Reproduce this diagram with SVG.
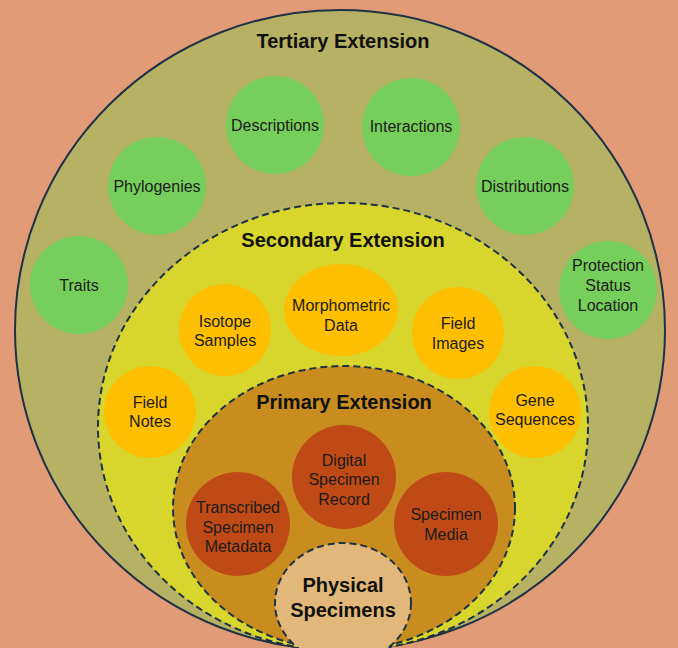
<svg xmlns="http://www.w3.org/2000/svg" width="678" height="648" viewBox="0 0 678 648">
<style>
.t{font-family:"Liberation Sans",Arial,sans-serif;font-size:16px;fill:#1c1c1c;text-anchor:middle}
.h{font-family:"Liberation Sans",Arial,sans-serif;font-size:20px;font-weight:bold;fill:#111;text-anchor:middle}
.g{fill:#76CF5A}
.o{fill:#FEBF00}
.r{fill:#BF4A16}
.dash{stroke:#1E3246;stroke-width:2;stroke-dasharray:7 4}
</style>
<rect width="678" height="648" fill="#E19B77"/>
<g id="tertiary">
<ellipse cx="340" cy="330" rx="325" ry="320" fill="#B6B163" stroke="#1E3246" stroke-width="2"/>
<text class="h" x="343" y="48">Tertiary Extension</text>
</g>
<g id="traits"><circle class="g" cx="79" cy="285" r="49"/><text class="t" x="79" y="291">Traits</text></g>
<g id="phylogenies"><circle class="g" cx="157" cy="186" r="49"/><text class="t" x="157" y="192">Phylogenies</text></g>
<g id="descriptions"><circle class="g" cx="275" cy="125" r="49"/><text class="t" x="275" y="131">Descriptions</text></g>
<g id="interactions"><circle class="g" cx="411" cy="127" r="49"/><text class="t" x="411" y="132">Interactions</text></g>
<g id="distributions"><circle class="g" cx="525" cy="186" r="49"/><text class="t" x="525" y="192">Distributions</text></g>
<g id="protection"><circle class="g" cx="608" cy="290" r="49"/><text class="t" x="608" y="271">Protection</text><text class="t" x="608" y="291">Status</text><text class="t" x="608" y="311">Location</text></g>
<g id="secondary">
<ellipse class="dash" cx="343" cy="427" rx="245" ry="224" fill="#D8D52C"/>
<text class="h" x="343" y="247">Secondary Extension</text>
</g>
<g id="isotope"><circle class="o" cx="225" cy="330" r="46"/><text class="t" x="225" y="327">Isotope</text><text class="t" x="225" y="346">Samples</text></g>
<g id="morphometric"><ellipse class="o" cx="341" cy="310" rx="57" ry="46"/><text class="t" x="341" y="311">Morphometric</text><text class="t" x="341" y="331">Data</text></g>
<g id="fieldimages"><circle class="o" cx="458" cy="333" r="46"/><text class="t" x="458" y="329">Field</text><text class="t" x="458" y="349">Images</text></g>
<g id="fieldnotes"><circle class="o" cx="150" cy="412" r="46"/><text class="t" x="150" y="408">Field</text><text class="t" x="150" y="427">Notes</text></g>
<g id="gene"><circle class="o" cx="535" cy="412" r="46"/><text class="t" x="535" y="406">Gene</text><text class="t" x="535" y="425">Sequences</text></g>
<g id="primary">
<ellipse class="dash" cx="344" cy="508" rx="171" ry="142" fill="#C98C1E"/>
<text class="h" x="344" y="409">Primary Extension</text>
</g>
<g id="digital"><circle class="r" cx="344" cy="477" r="52"/><text class="t" x="344" y="466">Digital</text><text class="t" x="344" y="485">Specimen</text><text class="t" x="344" y="505">Record</text></g>
<g id="transcribed"><circle class="r" cx="238" cy="524" r="52"/><text class="t" x="238" y="513">Transcribed</text><text class="t" x="238" y="533">Specimen</text><text class="t" x="238" y="552">Metadata</text></g>
<g id="media"><circle class="r" cx="446" cy="524" r="52"/><text class="t" x="446" y="520">Specimen</text><text class="t" x="446" y="540">Media</text></g>
<g id="physical">
<ellipse class="dash" cx="343" cy="603" rx="68" ry="60" fill="#E2B87A"/>
<text class="h" x="343" y="592">Physical</text>
<text class="h" x="343" y="617">Specimens</text>
</g>
<g id="connectors"/>
</svg>
